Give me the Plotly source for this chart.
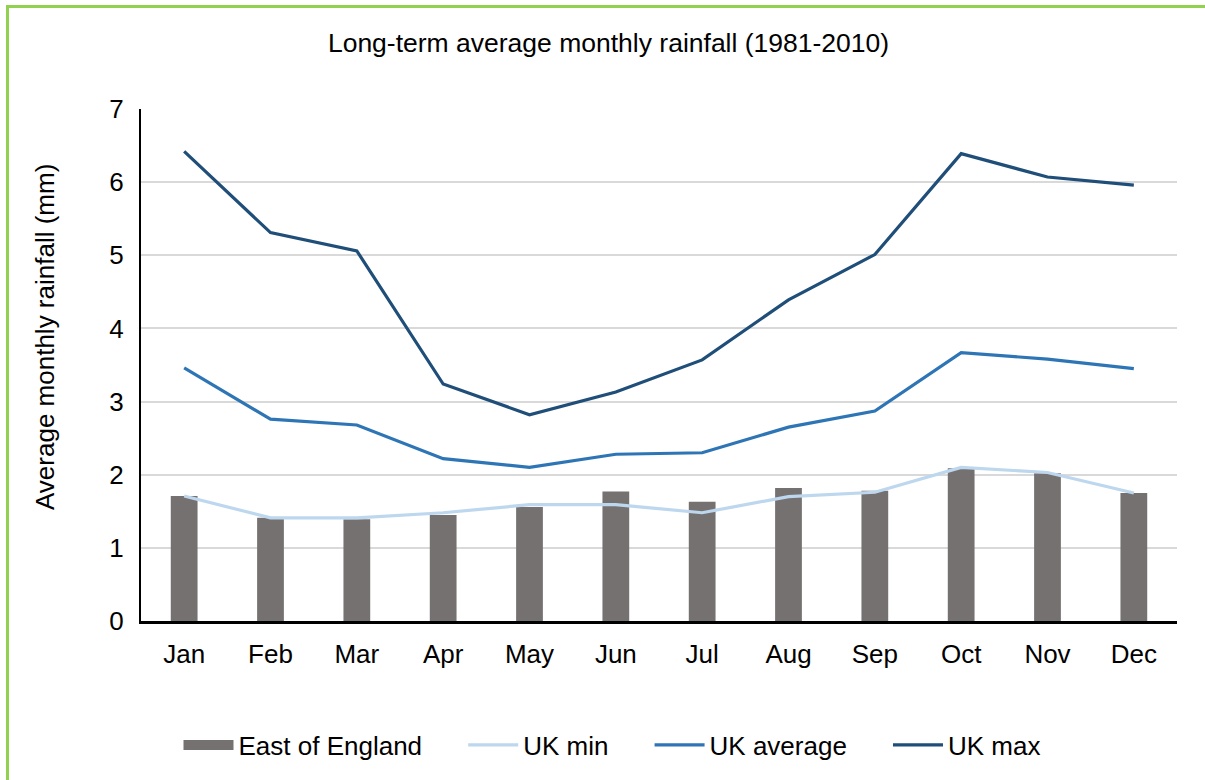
import plotly.graph_objects as go

months = ["Jan", "Feb", "Mar", "Apr", "May", "Jun", "Jul", "Aug", "Sep", "Oct", "Nov", "Dec"]
east_of_england = [1.71, 1.41, 1.39, 1.45, 1.56, 1.77, 1.63, 1.82, 1.78, 2.09, 2.02, 1.75]
uk_min = [1.71, 1.41, 1.41, 1.48, 1.59, 1.59, 1.48, 1.70, 1.76, 2.10, 2.03, 1.75]
uk_avg = [3.46, 2.76, 2.68, 2.22, 2.10, 2.28, 2.30, 2.65, 2.87, 3.67, 3.58, 3.45]
uk_max = [6.42, 5.31, 5.06, 3.24, 2.82, 3.13, 3.57, 4.39, 5.01, 6.39, 6.07, 5.96]

FONT = "Liberation Sans, Arial, sans-serif"
BAR_COLOR = "#767171"
GAP = "\u00a0" * 5

fig = go.Figure()
fig.add_trace(go.Bar(x=months, y=east_of_england, name="East of England",
                     marker=dict(color=BAR_COLOR, line=dict(width=0)), width=0.31,
                     showlegend=False, legendgroup="eoe"))
# legend entry for bars drawn as a wide block
fig.add_trace(go.Scatter(x=[None], y=[None], name="East of England" + GAP, mode="lines",
                         line=dict(color=BAR_COLOR, width=16), legendgroup="eoe",
                         hoverinfo="skip"))
fig.add_trace(go.Scatter(x=months, y=uk_min, name="UK min" + GAP, mode="lines",
                         line=dict(color="#BDD7EE", width=3.2)))
fig.add_trace(go.Scatter(x=months, y=uk_avg, name="UK average" + GAP, mode="lines",
                         line=dict(color="#2E75B6", width=3.2)))
fig.add_trace(go.Scatter(x=months, y=uk_max, name="UK max", mode="lines",
                         line=dict(color="#1F4E79", width=3.2)))

L, R, T, B = 141, 28, 109, 159
W, H = 1205, 780
pw, ph = W - L - R, H - T - B

fig.update_layout(
    width=W, height=H,
    margin=dict(l=L, r=R, t=T, b=B),
    paper_bgcolor="white", plot_bgcolor="white",
    font=dict(family=FONT, color="#000000", size=26),
    title=dict(text="Long-term average monthly rainfall (1981-2010)",
               x=0.505, xanchor="center", y=1 - 43 / H, yanchor="middle",
               yref="container", font=dict(size=26.5, family=FONT, color="#000000")),
    xaxis=dict(showline=True, linecolor="#000000", linewidth=3, ticks="",
               tickfont=dict(size=26), ticklabelstandoff=8, showgrid=False),
    yaxis=dict(range=[0, 7], dtick=1, showline=True, linecolor="#000000", linewidth=2,
               gridcolor="#D9D9D9", gridwidth=2, zeroline=False, ticks="",
               tickfont=dict(size=26), ticklabelstandoff=10),
    showlegend=True,
    legend=dict(orientation="h", x=(612 - L) / pw, xanchor="center",
                y=(H - B - 745) / ph, yanchor="middle",
                font=dict(size=26), itemwidth=50, traceorder="normal"),
)

fig.add_annotation(text="Average monthly rainfall (mm)", textangle=-90,
                   xref="paper", yref="paper",
                   x=(45 - L) / pw, y=(H - B - 337) / ph,
                   xanchor="center", yanchor="middle", showarrow=False,
                   font=dict(size=26, family=FONT, color="#000000"))

# green outer frame
fig.add_shape(type="rect", xref="paper", yref="paper",
              x0=(7.5 - L) / pw, x1=(W + 10 - L) / pw,
              y0=(H - B - (H + 10)) / ph, y1=(H - B - 6.5) / ph,
              line=dict(color="#92D050", width=3), fillcolor="rgba(0,0,0,0)", layer="below")

fig.write_html("out.html")
